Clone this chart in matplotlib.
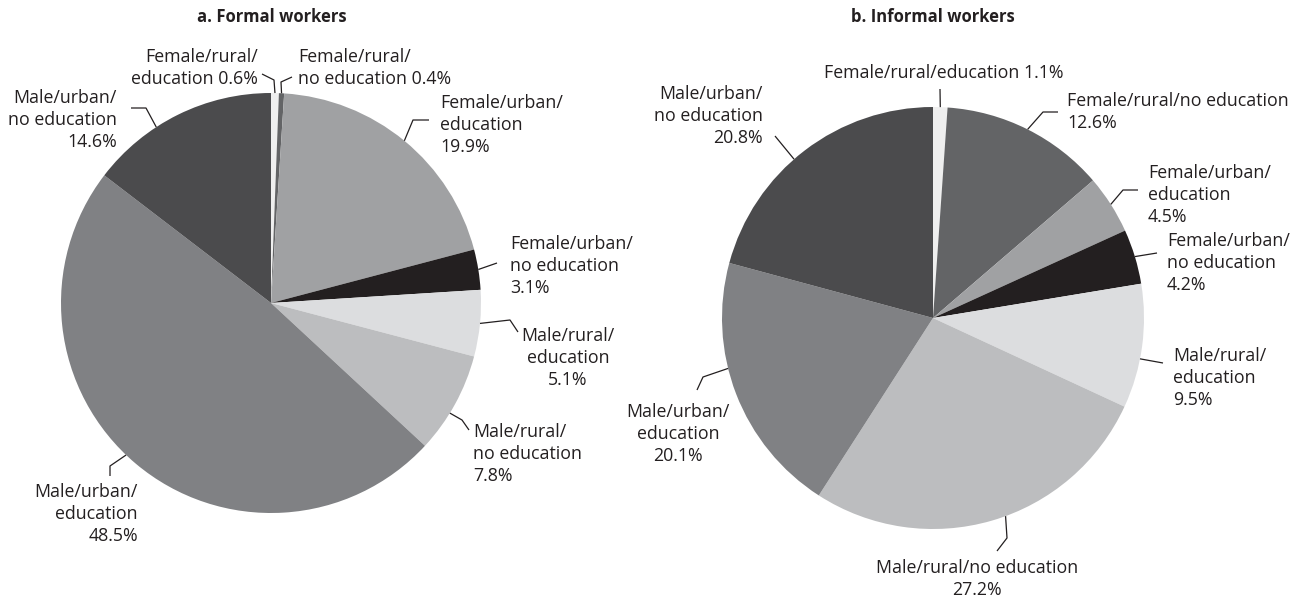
import matplotlib
matplotlib.use("Agg")
import matplotlib.pyplot as plt
import numpy as np

# slice order, clockwise from 12 o'clock
categories = ["Female/rural/education", "Female/rural/no education",
              "Female/urban/education", "Female/urban/no education",
              "Male/rural/education", "Male/rural/no education",
              "Male/urban/education", "Male/urban/no education"]
formal = [0.6, 0.4, 19.9, 3.1, 5.1, 7.8, 48.5, 14.6]
informal = [1.1, 12.6, 4.5, 4.2, 9.5, 27.2, 20.1, 20.8]
titles = ["a. Formal workers", "b. Informal workers"]

colors = ["#efefef", "#636466", "#a0a1a3", "#231f20",
          "#dcdddf", "#bcbdbf", "#808184", "#4b4b4d"]
TXT = "#231f20"
FONT = "Open Sans"

W, H = 1299, 600

def Y(y):
    # pixel row -> data y
    return H - y

# label layout per slice: (text, x, y, ha, frac along wedge from its start, elbow points)
formal_labels = [
    ("Female/rural/\neducation 0.6%", 258, 68, "right", 0.5, [(274, 80), (262, 74)]),
    ("Female/rural/\nno education 0.4%", 298, 68, "left", 0.5, [(281, 82), (292, 77)]),
    ("Female/urban/\neducation\n19.9%", 440, 125, "left", 0.5, [(413, 120), (429, 120)]),
    ("Female/urban/\nno education\n3.1%", 510, 266, "left", 0.5, [(497, 263)]),
    ("Male/rural/\neducation\n5.1%", 568, 358, "center", 0.5, [(510, 320), (518, 332)]),
    ("Male/rural/\nno education\n7.8%", 473, 454, "left", 0.6, [(462, 420), (469, 430)]),
    ("Male/urban/\neducation\n48.5%", 138, 514, "right", 0.52, [(110, 466), (110, 476)]),
    ("Male/urban/\nno education\n14.6%", 117, 120, "right", 0.37, [(146, 108), (131, 108)]),
]
informal_labels = [
    ("Female/rural/education 1.1%", 944, 73, "center", 0.5, [(940, 89)]),
    ("Female/rural/no education\n12.6%", 1067, 112, "left", 0.5, [(1043, 112), (1058, 112)]),
    ("Female/urban/\neducation\n4.5%", 1148, 195, "left", 0.5, [(1123, 190), (1138, 190)]),
    ("Female/urban/\nno education\n4.2%", 1167, 263, "left", 0.5, [(1157, 253)]),
    ("Male/rural/\neducation\n9.5%", 1173, 378, "left", 0.6, [(1163, 363)]),
    ("Male/rural/no education\n27.2%", 977, 579, "center", 0.46, [(1007, 538), (997, 551)]),
    ("Male/urban/\neducation\n20.1%", 678, 434, "center", 0.6, [(703, 377), (697, 390)]),
    ("Male/urban/\nno education\n20.8%", 763, 116, "right", 0.45, [(775, 136)]),
]

panels = [
    (formal, formal_labels, (271, 303), 210, 272),
    (informal, informal_labels, (933, 318), 211, 933),
]

fig = plt.figure(figsize=(W / 100, H / 100), dpi=100)
ax = fig.add_axes([0, 0, 1, 1])

for k, (vals, labels, (cx, cy), r, tx) in enumerate(panels):
    wedges, _ = ax.pie(vals, colors=colors, startangle=90, counterclock=False,
                       center=(cx, Y(cy)), radius=r, frame=True,
                       wedgeprops=dict(linewidth=0))
    ax.text(tx, Y(17), titles[k], ha="center", va="center", fontsize=12,
            fontweight="bold", color=TXT, family=FONT)
    for w, (txt, lx, ly, ha, frac, elbows) in zip(wedges, labels):
        # clockwise pie: each wedge starts at theta2 and runs down to theta1
        ang = np.deg2rad(w.theta2 - frac * (w.theta2 - w.theta1))
        px = cx + r * np.cos(ang)
        py = Y(cy) + r * np.sin(ang)
        xs = [px] + [e[0] for e in elbows]
        ys = [py] + [Y(e[1]) for e in elbows]
        ax.plot(xs, ys, color=TXT, lw=0.9, solid_capstyle="butt")
        ax.text(lx, Y(ly), txt, ha=ha, va="center", multialignment=ha,
                fontsize=12.8, color=TXT, family=FONT, linespacing=1.3)

ax.set_xlim(0, W)
ax.set_ylim(0, H)
ax.set_aspect("auto")
ax.set_axis_off()

fig.savefig("out.png", dpi=100, facecolor="white")
